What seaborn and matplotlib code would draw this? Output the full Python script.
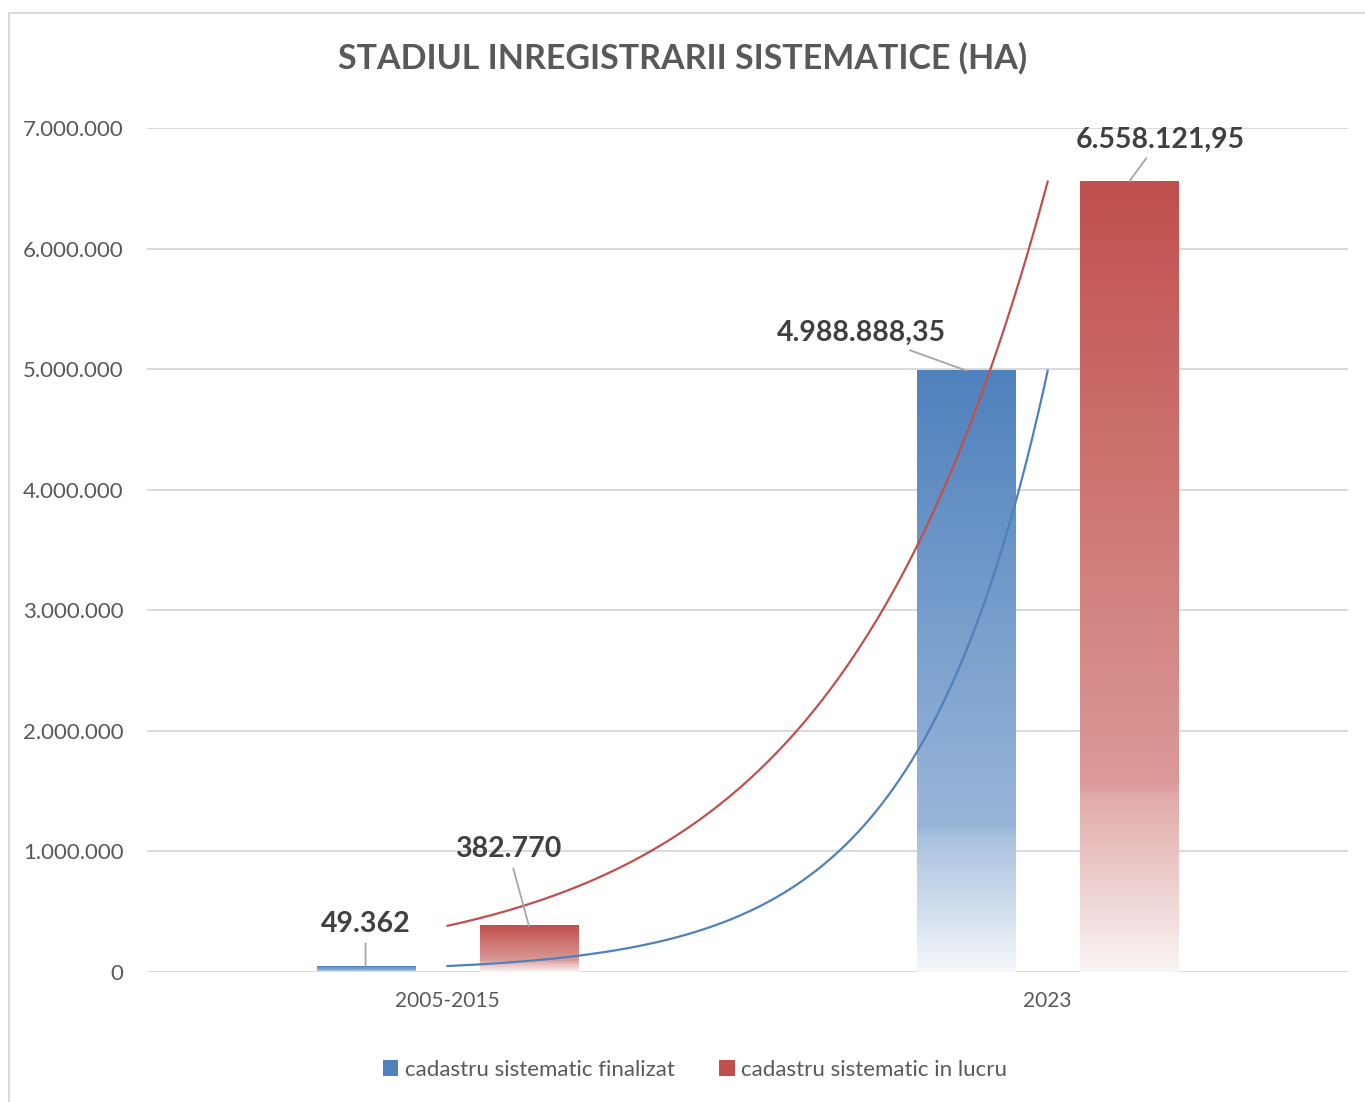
import numpy as np
import pandas as pd
import matplotlib
matplotlib.use('Agg')
import matplotlib.pyplot as plt
import matplotlib.colors as mcolors
from matplotlib.patches import Patch, Rectangle
import seaborn as sns

# data
perioade = ['2005-2015', '2023']
serii = ['cadastru sistematic finalizat', 'cadastru sistematic in lucru']
finalizat = [49362, 4988888.35]
in_lucru = [382770, 6558121.95]
etichete_finalizat = ['49.362', '4.988.888,35']
etichete_in_lucru = ['382.770', '6.558.121,95']
y_ticks = [0, 1000000, 2000000, 3000000, 4000000, 5000000, 6000000, 7000000]

culori = {serii[0]: '#4F81BD', serii[1]: '#C0504D'}

df = pd.DataFrame({
    'perioada': perioade * 2,
    'serie': [serii[0]] * 2 + [serii[1]] * 2,
    'ha': finalizat + in_lucru,
})

sns.set_style('white')
plt.rcParams['font.family'] = ['Lato', 'DejaVu Sans']

fig = plt.figure(figsize=(13.65, 11.02), dpi=100)
ax = fig.add_axes([147 / 1365, 130 / 1102, 1201 / 1365, 844 / 1102])

sns.barplot(data=df, x='perioada', y='ha', hue='serie', hue_order=serii,
            palette=culori, width=0.544, gap=0.4, legend=False, ax=ax,
            zorder=3)

ax.set_xlim(-0.5, 1.5)
ax.set_ylim(0, 7000000)


def gradient(culoare, n=300):
    rgb = np.array(mcolors.to_rgb(culoare))
    alb = np.ones(3)
    pos = np.linspace(0, 1, n)
    # fraction of white mixed in, top -> bottom
    stops_p = [0.0, 0.76, 0.78, 1.0]
    stops_w = [0.0, 0.42, 0.52, 0.94]
    w = np.interp(pos, stops_p, stops_w)
    img = (1 - w)[:, None] * rgb + w[:, None] * alb
    return img[:, None, :]


for serie, cont in zip(serii, ax.containers):
    img = gradient(culori[serie])
    for bar in cont:
        x0, w, h = bar.get_x(), bar.get_width(), bar.get_height()
        ax.imshow(img, extent=[x0, x0 + w, 0, h], origin='upper',
                  aspect='auto', interpolation='bilinear', zorder=3)
        bar.set_alpha(0)

ax.set_xlim(-0.5, 1.5)
ax.set_ylim(0, 7000000)

# exponential trendlines (as in the original), fitted from the data
xs = np.arange(len(perioade))
xx = np.linspace(0, 1, 200)
for serie, vals in zip(serii, [finalizat, in_lucru]):
    b, a = np.polyfit(xs, np.log(vals), 1)
    ax.plot(xx, np.exp(a + b * xx), color=culori[serie], lw=1.6, zorder=4)

# data labels with leader lines
offsets_f = [(0, 30), (-75, 27)]
offsets_l = [(-15, 55), (22, 30)]
for cont, etichete, offs in [(ax.containers[0], etichete_finalizat, offsets_f),
                             (ax.containers[1], etichete_in_lucru, offsets_l)]:
    for bar, txt, off in zip(cont, etichete, offs):
        xc = bar.get_x() + bar.get_width() / 2
        ax.annotate(txt, xy=(xc, bar.get_height()), xytext=off,
                    textcoords='offset points', ha='center', va='center',
                    fontsize=20.5, fontweight='bold', color='#404040',
                    arrowprops=dict(arrowstyle='-', color='#A6A6A6', lw=1.3,
                                    shrinkA=2, shrinkB=0),
                    zorder=6, annotation_clip=False)

ax.set_yticks(y_ticks)
ax.set_yticklabels([f'{v:,}'.replace(',', '.') for v in y_ticks])
ax.yaxis.grid(True, color='#D9D9D9', lw=1.4, zorder=0)
ax.set_axisbelow(True)
ax.tick_params(axis='y', length=0, pad=17, labelsize=16, labelcolor='#595959')
ax.tick_params(axis='x', length=0, pad=14, labelsize=15, labelcolor='#595959')
ax.set_xlabel('')
ax.set_ylabel('')
sns.despine(ax=ax, left=True, bottom=True, top=True, right=True)

fig.text(0.5, 1 - 58 / 1102, 'STADIUL INREGISTRARII SISTEMATICE (HA)',
         ha='center', va='center', fontsize=24.5, fontweight='bold',
         color='#595959')

handles = [Patch(facecolor=culori[s], edgecolor='none', label=s) for s in serii]
fig.legend(handles=handles, loc='center',
           bbox_to_anchor=(695 / 1365, 1 - 1070 / 1102),
           ncol=2, frameon=False, fontsize=16, handlelength=0.7,
           handleheight=0.7, handletextpad=0.3, columnspacing=2.0,
           labelcolor='#595959')

fig.patches.append(Rectangle((9 / 1365, -0.05), 1.1, 1 - 13 / 1102 + 0.05,
                             transform=fig.transFigure, fill=False,
                             edgecolor='#D9D9D9', lw=1.5))

fig.savefig('out.png', dpi=100)
